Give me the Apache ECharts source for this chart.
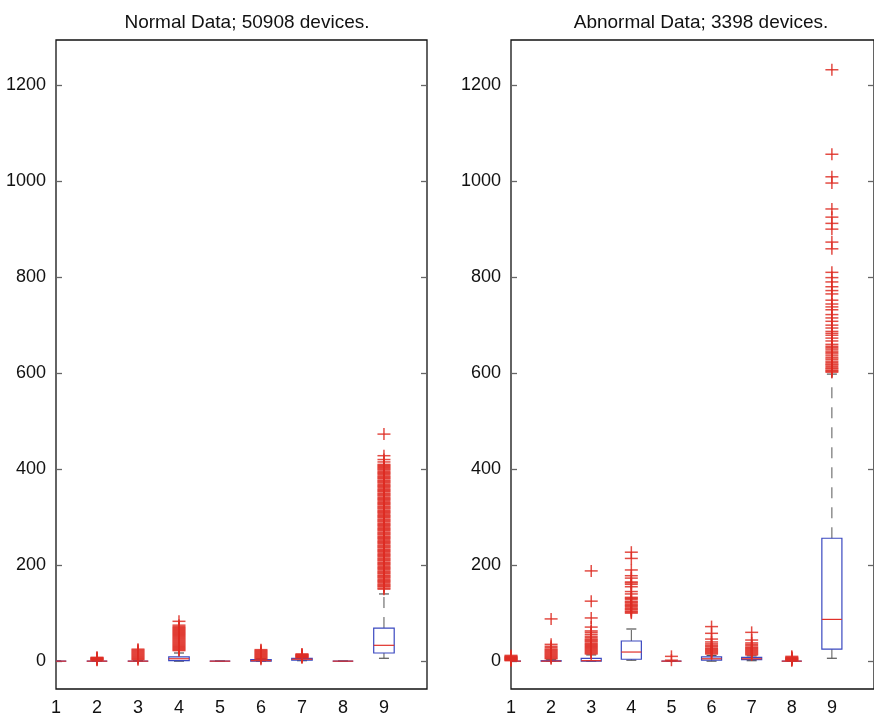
<!DOCTYPE html>
<html>
<head>
<meta charset="utf-8">
<script src="https://cdn.jsdelivr.net/npm/echarts@6/dist/echarts.min.js"></script>
<style>
html,body{margin:0;padding:0;background:#fff;}
#c{width:874px;height:719px;}
</style>
</head>
<body>
<div id="c"></div>
<script>
// ---------- data ----------
const categories = [1, 2, 3, 4, 5, 6, 7, 8, 9];
const yTicks = [0, 200, 400, 600, 800, 1000, 1200];
const titles = ['Normal Data; 50908 devices.', 'Abnormal Data; 3398 devices.'];

// [lower whisker, Q1, median, Q3, upper whisker]
const normalStats = [
  [0, 0, 0, 0, 0],
  [0, 0, 0, 0, 0],
  [0, 0, 0, 0, 1],
  [0, 1, 5, 9, 17],
  [0, 0, 0, 0, 0],
  [0, 0, 1, 3, 5],
  [1, 2, 4, 6, 8],
  [0, 0, 0, 0, 0],
  [6, 17, 33, 69, 140]
];
const abnormalStats = [
  [0, 0, 0, 0, 0],
  [0, 0, 0, 1, 3],
  [0, 0, 1, 6, 13],
  [2, 4, 19, 42, 67],
  [0, 0, 0, 0, 0],
  [0, 2, 5, 9, 12],
  [1, 3, 5, 8, 11],
  [0, 0, 0, 0, 0],
  [6, 25, 87, 256, 598]
];

// outliers per category
const normalOutliers = [
  [],
  [2, 3, 4, 5, 6, 7, 8],
  [3, 5, 7, 9, 11, 13, 15, 17, 19, 21, 23, 25],
  [22, 24, 26, 28, 30, 32, 34, 36, 38, 40, 42, 44, 46, 48, 50, 52, 54, 56, 58, 60, 62, 64, 66, 68, 70, 72, 75, 83],
  [],
  [4, 6, 8, 10, 12, 14, 16, 18, 20, 22, 24],
  [7, 8, 9, 10, 11, 12, 13, 14, 15],
  [],
  [150, 152, 155, 157, 159, 161, 164, 166, 168, 170, 173, 175, 177, 179, 182, 184, 186, 188, 191, 193,
   195, 197, 200, 202, 204, 206, 209, 211, 213, 215, 218, 220, 222, 224, 227, 229, 231, 233, 236, 238,
   240, 242, 245, 247, 249, 251, 254, 256, 258, 260, 263, 265, 267, 269, 272, 274, 276, 278, 281, 283,
   285, 287, 290, 292, 294, 296, 299, 301, 303, 305, 308, 310, 312, 314, 317, 319, 321, 323, 326, 328,
   330, 332, 335, 337, 339, 341, 344, 346, 348, 350, 353, 355, 357, 359, 362, 364, 366, 368, 371, 373,
   375, 377, 380, 382, 384, 386, 389, 391, 393, 395, 398, 400, 402, 404, 406, 408, 410, 415, 420, 428, 473]
];
const abnormalOutliers = [
  [1, 2, 3, 4, 5, 6, 7, 8, 9, 10, 12],
  [5, 7, 9, 11, 13, 15, 17, 19, 21, 23, 25, 28, 31, 35, 88],
  [15, 17, 19, 21, 23, 25, 27, 29, 31, 33, 35, 37, 40, 42, 44, 46, 49, 52, 56, 60, 63, 71, 90, 125, 188],
  [100, 102, 104, 107, 109, 111, 114, 116, 118, 121, 123, 125, 129, 131, 133, 140, 145, 155, 160, 163, 165, 173, 178, 190, 214, 227],
  [2, 10],
  [15, 17, 19, 21, 23, 25, 27, 30, 33, 36, 40, 46, 58, 72],
  [13, 15, 17, 19, 21, 23, 25, 27, 29, 32, 35, 38, 44, 60],
  [1, 2, 3, 4, 5, 6, 7, 8, 10],
  [602, 604, 606, 609, 611, 614, 617, 619, 622, 625, 629, 632, 636, 640, 643, 646, 650, 653, 656, 660, 667, 673, 679, 683, 687, 694, 700, 708, 715,
   722, 732, 738, 744, 752, 765, 772, 780, 790, 799, 810, 859, 873, 900, 912, 925, 942, 996, 1009, 1056, 1232]
];

// ---------- chart ----------
const chart = echarts.init(document.getElementById('c'), null, {renderer: 'canvas'});
const FONT = 'Liberation Sans, Arial, Helvetica, sans-serif';
const BLUE = '#3a48c0';
const RED = '#e0302a';
const YMIN = -58, YMAX = 1294;

function boxData(stats) {
  return stats.map((s, i) => [categories[i]].concat(s));
}
function outlierData(outs) {
  const d = [];
  outs.forEach((arr, i) => arr.forEach(v => d.push([categories[i], v])));
  return d;
}

function renderBox(params, api) {
  const x = api.value(0);
  const mn = api.value(1), q1 = api.value(2), md = api.value(3), q3 = api.value(4), mx = api.value(5);
  const pMin = api.coord([x, mn]), pQ1 = api.coord([x, q1]), pMd = api.coord([x, md]);
  const pQ3 = api.coord([x, q3]), pMax = api.coord([x, mx]);
  const half = api.size([0.5, 0])[0] / 2;
  const cap = 5;
  const cx = pMd[0];
  const wStyle = {stroke: '#555', lineWidth: 1, lineDash: [11, 9]};
  const cStyle = {stroke: '#555', lineWidth: 1.2};
  return {
    type: 'group',
    children: [
      {type: 'line', shape: {x1: cx, y1: pQ3[1], x2: cx, y2: pMax[1]}, style: wStyle},
      {type: 'line', shape: {x1: cx, y1: pQ1[1], x2: cx, y2: pMin[1]}, style: wStyle},
      {type: 'line', shape: {x1: cx - cap, y1: pMax[1], x2: cx + cap, y2: pMax[1]}, style: cStyle},
      {type: 'line', shape: {x1: cx - cap, y1: pMin[1], x2: cx + cap, y2: pMin[1]}, style: cStyle},
      {type: 'rect', shape: {x: cx - half, y: pQ3[1], width: 2 * half, height: pQ1[1] - pQ3[1]},
        style: {fill: 'none', stroke: BLUE, lineWidth: 1.2}},
      {type: 'line', shape: {x1: cx - half, y1: pMd[1], x2: cx + half, y2: pMd[1]},
        style: {stroke: RED, lineWidth: 1.2}}
    ]
  };
}

function renderPlus(params, api) {
  const p = api.coord([api.value(0), api.value(1)]);
  const h = 6.5, v = 6;
  const st = {stroke: 'rgba(222,45,35,0.85)', lineWidth: 1.5};
  return {
    type: 'group',
    children: [
      {type: 'line', shape: {x1: p[0] - h, y1: p[1], x2: p[0] + h, y2: p[1]}, style: st},
      {type: 'line', shape: {x1: p[0], y1: p[1] - v, x2: p[0], y2: p[1] + v}, style: st}
    ]
  };
}

const grids = [
  {left: 56, top: 40, width: 371, height: 649},
  {left: 511, top: 40, width: 366, height: 649}
];

const option = {
  animation: false,
  backgroundColor: '#fff',
  title: [
    {text: titles[0], left: 242, top: 8, textAlign: 'center',
      textStyle: {fontFamily: FONT, fontSize: 19, fontWeight: 'normal', color: '#111'}},
    {text: titles[1], left: 696, top: 8, textAlign: 'center',
      textStyle: {fontFamily: FONT, fontSize: 19, fontWeight: 'normal', color: '#111'}}
  ],
  grid: grids.map(g => Object.assign({show: true, borderColor: '#111', borderWidth: 1.3, backgroundColor: 'transparent'}, g)),
  xAxis: [0, 1].map(i => ({
    type: 'value', gridIndex: i, min: 1, max: 10.05,
    axisLine: {show: false}, axisTick: {show: false}, splitLine: {show: false},
    axisLabel: {customValues: categories, margin: 10, fontFamily: FONT, fontSize: 18, color: '#111',
      formatter: v => String(v)}
  })),
  yAxis: [0, 1].flatMap(i => [
    {type: 'value', gridIndex: i, min: YMIN, max: YMAX, position: 'left',
      axisLine: {show: false}, splitLine: {show: false},
      axisTick: {show: true, inside: true, length: 6, customValues: yTicks, lineStyle: {color: '#666', width: 1.3}},
      axisLabel: {customValues: yTicks, margin: 10, fontFamily: FONT, fontSize: 18, color: '#111',
        formatter: v => String(v)}},
    {type: 'value', gridIndex: i, min: YMIN, max: YMAX, position: 'right',
      axisLine: {show: false}, splitLine: {show: false},
      axisTick: {show: true, inside: true, length: 6, customValues: yTicks, lineStyle: {color: '#666', width: 1.3}},
      axisLabel: {show: false}}
  ]),
  series: [
    {type: 'custom', xAxisIndex: 0, yAxisIndex: 0, clip: true, renderItem: renderBox, data: boxData(normalStats)},
    {type: 'custom', xAxisIndex: 0, yAxisIndex: 0, clip: false, renderItem: renderPlus, data: outlierData(normalOutliers)},
    {type: 'custom', xAxisIndex: 1, yAxisIndex: 2, clip: true, renderItem: renderBox, data: boxData(abnormalStats)},
    {type: 'custom', xAxisIndex: 1, yAxisIndex: 2, clip: false, renderItem: renderPlus, data: outlierData(abnormalOutliers)}
  ]
};
chart.setOption(option);
</script>
</body>
</html>
